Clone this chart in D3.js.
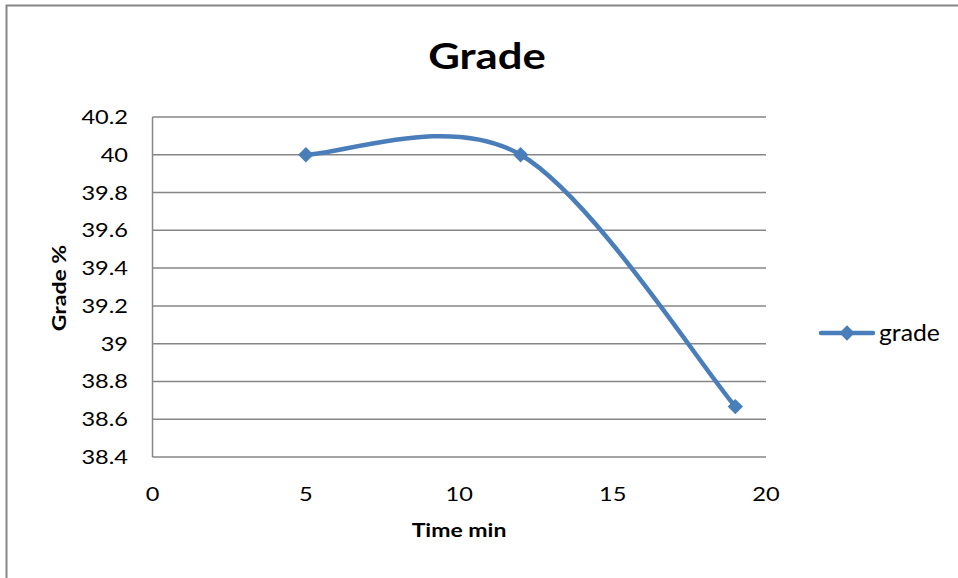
<!DOCTYPE html>
<html><head><meta charset="utf-8">
<script src="https://cdn.jsdelivr.net/npm/d3@7"></script>
<style>body{margin:0;background:#fff}svg{display:block}text{font-family:Lato,"Open Sans",sans-serif;fill:#000}</style>
</head><body>
<script>
const times = [5, 12, 19];
const grades = [40, 40, 38.667];
const xTicks = [0, 5, 10, 15, 20];
const yTicks = [38.4, 38.6, 38.8, 39, 39.2, 39.4, 39.6, 39.8, 40, 40.2];
const seriesName = "grade";
const titleText = "Grade";
const xTitle = "Time min";
const yTitle = "Grade %";

const W = 958, H = 578;
const SX = 1.18; // horizontal text stretch
const svg = d3.select("body").append("svg").attr("width", W).attr("height", H);
svg.append("rect").attr("x", 6.5).attr("y", 5.5).attr("width", W + 10).attr("height", H + 10)
  .attr("fill", "#fff").attr("stroke", "#868686").attr("stroke-width", 2);

const L = 152.5, R = 766, T = 117, B = 457;
const x = d3.scaleLinear().domain([0, 20]).range([L, R]);
const y = d3.scaleLinear().domain([38.4, 40.2]).range([B, T]);

// gridlines
svg.append("g").selectAll("line").data(yTicks).join("line")
  .attr("x1", L).attr("x2", R).attr("y1", d => y(d)).attr("y2", d => y(d))
  .attr("stroke", "#868686").attr("stroke-width", 1.5);
svg.append("line").attr("x1", L).attr("x2", L).attr("y1", T).attr("y2", B)
  .attr("stroke", "#868686").attr("stroke-width", 1.5);

// y tick labels
svg.append("g").selectAll("text").data(yTicks).join("text")
  .attr("transform", d => `translate(128,${y(d) + 7}) scale(${SX},1)`)
  .attr("text-anchor", "end").attr("font-size", 20).text(d => d3.format("")(d));
// x tick labels
svg.append("g").selectAll("text").data(xTicks).join("text")
  .attr("transform", d => `translate(${x(d)},501) scale(${SX},1)`)
  .attr("text-anchor", "middle").attr("font-size", 20).text(d => d);

// titles
svg.append("text").attr("transform", `translate(487,69) scale(${SX},1)`).attr("text-anchor", "middle")
  .attr("font-size", 37).attr("font-weight", "bold").text(titleText);
svg.append("text").attr("transform", `translate(459,537) scale(${SX},1)`).attr("text-anchor", "middle")
  .attr("font-size", 19.5).attr("font-weight", "bold").text(xTitle);
svg.append("text").attr("transform", `translate(66,288) rotate(-90) scale(${SX},1)`).attr("text-anchor", "middle")
  .attr("font-size", 19.5).attr("font-weight", "bold").text(yTitle);

// Excel-style smoothed curve
function excelSmooth(context) {
  let pts = [];
  return {
    lineStart() { pts = []; },
    lineEnd() {
      const n = pts.length;
      if (!n) return;
      context.moveTo(pts[0][0], pts[0][1]);
      for (let i = 0; i < n - 1; i++) {
        const p0 = pts[Math.max(i - 1, 0)], p1 = pts[i], p2 = pts[i + 1], p3 = pts[Math.min(i + 2, n - 1)];
        context.bezierCurveTo(
          p1[0] + (p2[0] - p0[0]) / 6, p1[1] + (p2[1] - p0[1]) / 6,
          p2[0] - (p3[0] - p1[0]) / 6, p2[1] - (p3[1] - p1[1]) / 6,
          p2[0], p2[1]);
      }
    },
    point(px, py) { pts.push([px, py]); },
    areaStart() {}, areaEnd() {}
  };
}

const color = "#4a7ebb";
const data = times.map((t, i) => [t, grades[i]]);
const line = d3.line().x(d => x(d[0])).y(d => y(d[1])).curve(excelSmooth);
svg.append("path").datum(data).attr("d", line).attr("fill", "none")
  .attr("stroke", color).attr("stroke-width", 4.5).attr("stroke-linecap", "round");

const diamond = d3.symbol().type(d3.symbolDiamond2).size(150);
svg.append("g").selectAll("path").data(data).join("path")
  .attr("transform", d => `translate(${x(d[0])},${y(d[1])})`)
  .attr("d", diamond).attr("fill", color);

// legend
const ly = 333;
svg.append("line").attr("x1", 821).attr("x2", 873).attr("y1", ly).attr("y2", ly)
  .attr("stroke", color).attr("stroke-width", 4.5).attr("stroke-linecap", "round");
svg.append("path").attr("transform", `translate(847,${ly})`).attr("d", diamond).attr("fill", color);
svg.append("text").attr("transform", `translate(879,341) scale(1.1,1)`).attr("font-size", 22.5).text(seriesName);
</script>
</body></html>
